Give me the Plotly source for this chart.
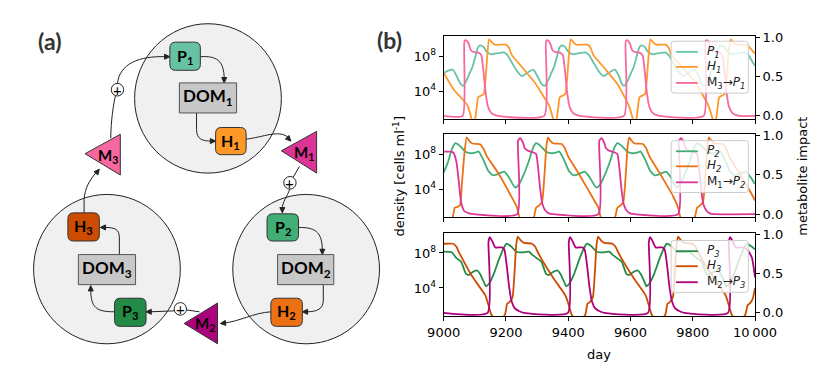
import numpy as np
import plotly.graph_objects as go

# ---------------- panel (b) data ----------------
# days and log10(density) for P and H, metabolite impact (0..1) for M

p1_day = [9000, 9015, 9030, 9042, 9052, 9062,
          9070, 9082, 9093, 9103, 9111, 9118, 9128, 9138, 9154, 9169, 9195, 9205, 9220, 9236, 9251, 9261, 9276, 9288, 9301, 9315, 9324,
          9332, 9344, 9355, 9365, 9373, 9380, 9390, 9400, 9416, 9431, 9457, 9467, 9482, 9498, 9513, 9523, 9538, 9550, 9563, 9573, 9580,
          9588, 9600, 9611, 9621, 9629, 9636, 9646, 9656, 9672, 9687, 9713, 9723, 9738, 9754, 9769, 9779, 9794, 9806, 9819, 9829, 9836,
          9844, 9856, 9867, 9877, 9885, 9892, 9902, 9912, 9928, 9943, 9969, 9979, 9994, 10000]
p1_log = [6.07, 6.33, 6.44, 5.7, 4.96, 4.6,
          4.96, 5.9, 6.8, 8.1, 9.04, 9.22, 9.04, 8.5, 8.2, 8.3, 8.4, 8.1, 7.2, 6.26, 5.7, 5.9, 6.26, 6.44, 5.7, 4.78, 4.6,
          4.96, 5.9, 6.8, 8.1, 9.04, 9.22, 9.04, 8.5, 8.2, 8.3, 8.4, 8.1, 7.2, 6.26, 5.7, 5.9, 6.26, 6.44, 5.7, 4.78, 4.6,
          4.96, 5.9, 6.8, 8.1, 9.04, 9.22, 9.04, 8.5, 8.2, 8.3, 8.4, 8.1, 7.2, 6.26, 5.7, 5.9, 6.26, 6.44, 5.7, 4.78, 4.6,
          4.96, 5.9, 6.8, 8.1, 9.04, 9.22, 9.04, 8.5, 8.2, 8.3, 8.4, 8.1, 7.2, 6.9]

h1_day = [9000, 9021, 9036, 9062,
          9076, 9090, 9095, 9101, 9105, 9111, 9121, 9129, 9134, 9139, 9146, 9154, 9164, 9199, 9209, 9219, 9255, 9296, 9324,
          9338, 9352, 9357, 9363, 9367, 9373, 9383, 9391, 9396, 9401, 9408, 9416, 9426, 9461, 9471, 9481, 9517, 9558, 9580,
          9594, 9608, 9613, 9619, 9623, 9629, 9639, 9647, 9652, 9657, 9664, 9672, 9682, 9712, 9722, 9732, 9770, 9812, 9836,
          9850, 9864, 9869, 9875, 9879, 9885, 9895, 9903, 9908, 9913, 9922, 9930, 9940, 9972, 9982, 9992, 10000]
h1_log = [6.1, 4.8, 4.0, 3.0,
          2.4, 0.78, 0.0, 0.8, 1.8, 3.3, 3.5, 3.7, 5.1, 7.5, 9.9, 9.6, 9.3, 9.3, 9.0, 8.1, 6.6, 4.8, 3.2,
          2.4, 0.78, 0.0, 0.8, 1.8, 3.3, 3.5, 3.7, 5.1, 7.5, 9.9, 9.6, 9.3, 9.3, 9.0, 8.1, 6.6, 4.8, 3.4,
          2.4, 0.78, 0.0, 0.8, 1.8, 3.3, 3.5, 3.7, 5.1, 7.5, 9.9, 9.6, 9.3, 9.3, 9.0, 8.1, 6.6, 4.8, 3.3,
          2.4, 0.78, 0.0, 0.8, 1.8, 3.3, 3.5, 3.7, 5.1, 7.5, 9.9, 9.6, 9.3, 9.3, 9.0, 8.6, 8.3]

m3p1_day = [9000,
            9061, 9067, 9073, 9081, 9088, 9098, 9113, 9121, 9127, 9134, 9141, 9149, 9159, 9175,
            9323, 9329, 9335, 9343, 9350, 9360, 9375, 9383, 9389, 9396, 9403, 9411, 9421, 9437,
            9579, 9585, 9591, 9599, 9606, 9616, 9631, 9639, 9645, 9652, 9659, 9667, 9677, 9693,
            9835, 9841, 9847, 9855, 9862, 9872, 9887, 9895, 9901, 9908, 9915, 9923, 9933, 9949, 10000]
m3p1_val = [0.0,
            0.0, 0.95, 0.96, 0.91, 0.83, 0.81, 0.80, 0.77, 0.60, 0.32, 0.14, 0.06, 0.02, 0.0,
            0.0, 0.95, 0.96, 0.91, 0.83, 0.81, 0.80, 0.77, 0.60, 0.32, 0.14, 0.06, 0.02, 0.0,
            0.0, 0.95, 0.96, 0.91, 0.83, 0.81, 0.80, 0.77, 0.60, 0.32, 0.14, 0.06, 0.02, 0.0,
            0.0, 0.95, 0.96, 0.91, 0.83, 0.81, 0.80, 0.77, 0.60, 0.32, 0.14, 0.06, 0.02, 0.0, 0.0]

p2_day = [9000, 9013, 9028, 9038, 9053, 9069, 9084, 9104, 9112, 9127, 9143, 9158, 9173, 9194, 9209, 9229,
          9241, 9256, 9272, 9287, 9297, 9312, 9328, 9343, 9363, 9371, 9386, 9402, 9417, 9432, 9453, 9468, 9490,
          9502, 9517, 9533, 9548, 9558, 9573, 9589, 9604, 9624, 9632, 9647, 9663, 9678, 9693, 9714, 9729, 9747,
          9758, 9773, 9789, 9804, 9814, 9829, 9845, 9860, 9880, 9888, 9903, 9919, 9934, 9949, 9970, 9985, 10000]
p2_log = [5.9, 7.0, 8.7, 9.25, 8.9, 8.3, 8.1, 8.2, 8.3, 7.4, 6.1, 5.57, 5.7, 6.0, 5.4, 4.2,
          4.5, 5.57, 7.04, 8.7, 9.25, 8.9, 8.3, 8.1, 8.2, 8.3, 7.4, 6.1, 5.57, 5.7, 6.0, 5.4, 4.2,
          4.5, 5.57, 7.04, 8.7, 9.25, 8.9, 8.3, 8.1, 8.2, 8.3, 7.4, 6.1, 5.57, 5.7, 6.0, 5.4, 4.2,
          4.5, 5.57, 7.04, 8.7, 9.25, 8.9, 8.3, 8.1, 8.2, 8.3, 7.4, 6.1, 5.57, 5.7, 6.0, 5.4, 4.6]

h2_day = [9000, 9022, 9029, 9036, 9046, 9053, 9059, 9066, 9074, 9082, 9092, 9118, 9128, 9138, 9174, 9214,
          9236, 9244, 9266, 9289, 9297, 9307, 9316, 9323, 9330, 9335, 9343, 9353, 9379, 9389, 9399, 9435, 9476,
          9497, 9505, 9527, 9550, 9558, 9568, 9577, 9584, 9591, 9596, 9604, 9614, 9640, 9650, 9660, 9696, 9737,
          9753, 9761, 9783, 9806, 9814, 9824, 9833, 9840, 9847, 9852, 9860, 9870, 9896, 9906, 9916, 9952, 9993, 10000]
h2_log = [0.0, 0.0, 0.76, 1.9, 2.0, 2.26, 4.8, 7.8, 9.9, 9.5, 9.2, 9.1, 8.6, 7.8, 5.9, 3.4,
          1.9, 0.76, 0.0, 0.76, 1.9, 2.15, 2.56, 5.2, 8.9, 9.9, 9.5, 9.2, 9.15, 8.7, 7.8, 5.7, 3.2,
          1.9, 0.76, 0.0, 0.76, 1.9, 2.15, 2.56, 5.2, 8.9, 9.9, 9.5, 9.2, 9.15, 8.7, 7.8, 5.7, 3.2,
          1.9, 0.76, 0.0, 0.76, 1.9, 2.15, 2.56, 5.2, 8.9, 9.9, 9.5, 9.2, 9.15, 8.7, 7.8, 5.7, 3.2, 2.7]

m1p2_day = [9000, 9020, 9031, 9041, 9049, 9056, 9066, 9082, 9097,
            9236, 9239, 9246, 9254, 9261, 9272, 9289, 9297, 9303, 9310, 9317, 9326, 9338, 9353,
            9497, 9500, 9507, 9515, 9522, 9533, 9550, 9558, 9564, 9571, 9578, 9587, 9599, 9614,
            9753, 9756, 9763, 9771, 9778, 9789, 9806, 9814, 9820, 9827, 9834, 9843, 9855, 9870, 10000]
m1p2_val = [0.79, 0.79, 0.78, 0.66, 0.40, 0.15, 0.04, 0.01, 0.0,
            0.0, 0.93, 0.96, 0.91, 0.83, 0.80, 0.78, 0.76, 0.60, 0.32, 0.13, 0.05, 0.01, 0.0,
            0.0, 0.93, 0.96, 0.91, 0.83, 0.80, 0.78, 0.76, 0.60, 0.32, 0.13, 0.05, 0.01, 0.0,
            0.0, 0.93, 0.96, 0.91, 0.83, 0.80, 0.78, 0.76, 0.60, 0.32, 0.13, 0.05, 0.01, 0.0, 0.0]

p3_day = [9000, 9026, 9041, 9056, 9072, 9082, 9092, 9107, 9117, 9133, 9136,
          9146, 9161, 9177, 9192, 9202, 9218, 9233, 9253, 9274, 9284, 9299, 9314, 9329, 9339, 9350, 9365, 9375, 9391, 9394,
          9404, 9419, 9435, 9450, 9460, 9476, 9491, 9511, 9532, 9542, 9557, 9572, 9587, 9597, 9608, 9623, 9633, 9649, 9651,
          9661, 9676, 9692, 9707, 9717, 9733, 9748, 9768, 9789, 9799, 9814, 9829, 9844, 9854, 9865, 9880, 9890, 9906, 9908,
          9918, 9933, 9949, 9964, 9974, 9990, 10000]
p3_log = [8.14, 8.07, 7.4, 7.0, 5.6, 5.5, 5.8, 6.0, 5.6, 4.36, 4.18,
          4.5, 5.6, 7.2, 8.5, 9.05, 8.7, 8.14, 8.07, 8.14, 7.8, 7.4, 7.0, 5.6, 5.5, 5.8, 6.0, 5.6, 4.36, 4.18,
          4.5, 5.6, 7.2, 8.5, 9.05, 8.7, 8.14, 8.07, 8.14, 7.8, 7.4, 7.0, 5.6, 5.5, 5.8, 6.0, 5.6, 4.36, 4.18,
          4.5, 5.6, 7.2, 8.5, 9.05, 8.7, 8.14, 8.07, 8.14, 7.8, 7.4, 7.0, 5.6, 5.5, 5.8, 6.0, 5.6, 4.36, 4.18,
          4.5, 5.6, 7.2, 8.5, 9.05, 8.7, 8.4]

h3_day = [9000, 9031, 9041, 9051, 9092, 9133,
          9141, 9153, 9175, 9197, 9204, 9212, 9221, 9228, 9233, 9238, 9248, 9258, 9284, 9294, 9304, 9351, 9390,
          9399, 9411, 9433, 9455, 9462, 9470, 9479, 9486, 9491, 9496, 9506, 9516, 9542, 9552, 9562, 9609, 9648,
          9656, 9668, 9690, 9712, 9719, 9727, 9736, 9743, 9748, 9753, 9763, 9773, 9799, 9809, 9819, 9866, 9905,
          9913, 9925, 9947, 9969, 9976, 9985, 9993, 10000]
h3_log = [9.05, 9.05, 8.7, 7.96, 5.3, 3.2,
          2.4, 0.97, 0.0, 0.97, 2.2, 2.4, 2.9, 6.0, 8.9, 9.87, 9.4, 9.15, 9.05, 8.7, 7.96, 5.2, 3.2,
          2.4, 0.97, 0.0, 0.97, 2.2, 2.4, 2.9, 6.0, 8.9, 9.87, 9.4, 9.15, 9.05, 8.7, 7.96, 5.2, 3.2,
          2.4, 0.97, 0.0, 0.97, 2.2, 2.4, 2.9, 6.0, 8.9, 9.87, 9.4, 9.15, 9.05, 8.7, 7.96, 5.2, 3.2,
          2.4, 0.97, 0.0, 0.97, 2.0, 2.3, 2.8, 4.0]

m2p3_day = [9000,
            9141, 9144, 9148, 9156, 9166, 9187, 9195, 9202, 9210, 9218, 9228, 9243, 9258,
            9399, 9402, 9406, 9414, 9424, 9445, 9453, 9460, 9468, 9476, 9486, 9501, 9516,
            9656, 9659, 9663, 9671, 9681, 9702, 9710, 9717, 9725, 9733, 9743, 9758, 9773,
            9913, 9916, 9920, 9928, 9938, 9965, 9975, 9990, 10000]
m2p3_val = [0.0,
            0.0, 0.90, 0.96, 0.91, 0.83, 0.83, 0.80, 0.62, 0.34, 0.15, 0.06, 0.02, 0.0,
            0.0, 0.90, 0.96, 0.91, 0.83, 0.83, 0.80, 0.62, 0.34, 0.15, 0.06, 0.02, 0.0,
            0.0, 0.90, 0.96, 0.91, 0.83, 0.83, 0.80, 0.62, 0.34, 0.15, 0.06, 0.02, 0.0,
            0.0, 0.90, 0.96, 0.91, 0.83, 0.83, 0.80, 0.70, 0.45]

x_ticks = [9000, 9200, 9400, 9600, 9800, 10000]
x_ticktext = ["9000", "9200", "9400", "9600", "9800", "10\u2009000"]

# colours (ColorBrewer-like)
C_P1, C_H1, C_M3 = "#66c2a5", "#fe9929", "#f768a1"
C_P2, C_H2, C_M1 = "#41ae76", "#ec7014", "#dd3497"
C_P3, C_H3, C_M2 = "#238b45", "#cc4c02", "#ae017e"

W, H = 830, 366
FONT = "DejaVu Sans"


def px_x(x0, x1):
    return [x0 / W, x1 / W]


def px_y(top, bottom):
    return [1 - bottom / H, 1 - top / H]


fig = go.Figure()

panels = [
    # (xaxis, left y, right y, P, H, M)
    ("x", "y", "y2",
     (p1_day, p1_log, C_P1, "<i>P<sub>1</sub></i>"),
     (h1_day, h1_log, C_H1, "<i>H<sub>1</sub></i>"),
     (m3p1_day, m3p1_val, C_M3, "M<sub>3</sub>\u2192<i>P<sub>1</sub></i>")),
    ("x2", "y3", "y4",
     (p2_day, p2_log, C_P2, "<i>P<sub>2</sub></i>"),
     (h2_day, h2_log, C_H2, "<i>H<sub>2</sub></i>"),
     (m1p2_day, m1p2_val, C_M1, "M<sub>1</sub>\u2192<i>P<sub>2</sub></i>")),
    ("x3", "y5", "y6",
     (p3_day, p3_log, C_P3, "<i>P<sub>3</sub></i>"),
     (h3_day, h3_log, C_H3, "<i>H<sub>3</sub></i>"),
     (m2p3_day, m2p3_val, C_M2, "M<sub>2</sub>\u2192<i>P<sub>3</sub></i>")),
]

for xa, yl, yr, P, Hh, M in panels:
    for d, v, c, name in (P, Hh):
        fig.add_trace(go.Scatter(x=d, y=10 ** np.array(v), xaxis=xa, yaxis=yl, mode="lines",
                                 line=dict(color=c, width=1.8, shape="spline", smoothing=0.5),
                                 name=name, showlegend=False))
    d, v, c, name = M
    fig.add_trace(go.Scatter(x=d, y=v, xaxis=xa, yaxis=yr, mode="lines",
                             line=dict(color=c, width=1.8, shape="spline", smoothing=0.5),
                             name=name, showlegend=False))

# dummy trace so the pixel-space helper axes exist
fig.add_trace(go.Scatter(x=[], y=[], xaxis="x4", yaxis="y7", showlegend=False))

xdom = px_x(439.3, 766)
ydoms = [px_y(22, 107.3), px_y(123, 208.6), px_y(225, 310.3)]

axis_common = dict(showline=True, linecolor="black", linewidth=1, mirror=True, ticks="outside",
                   ticklen=4, tickcolor="black", showgrid=False, zeroline=False,
                   tickfont=dict(family=FONT, size=13, color="black"))

lay = dict(
    width=W, height=H, margin=dict(l=0, r=0, t=0, b=0),
    paper_bgcolor="white", plot_bgcolor="rgba(0,0,0,0)", showlegend=False,
    xaxis4=dict(domain=[0, 1], range=[0, W], anchor="y7", visible=False, fixedrange=True),
    yaxis7=dict(domain=[0, 1], range=[H, 0], anchor="x4", visible=False, fixedrange=True),
)
for i, (xa, yl, yr) in enumerate([("x", "y", "y2"), ("x2", "y3", "y4"), ("x3", "y5", "y6")]):
    xn = "xaxis" + ("" if xa == "x" else xa[1:])
    yln = "yaxis" + ("" if yl == "y" else yl[1:])
    yrn = "yaxis" + yr[1:]
    lay[xn] = dict(axis_common, domain=xdom, range=[9000, 10000], anchor=yl,
                   tickvals=x_ticks, ticktext=x_ticktext, showticklabels=(i == 2))
    lay[yln] = dict(axis_common, domain=ydoms[i], type="log", range=[0.8, 10.25], anchor=xa,
                    tickvals=[1e4, 1e8], ticktext=["10<sup>4</sup>", "10<sup>8</sup>"])
    lay[yrn] = dict(axis_common, overlaying=yl, side="right", anchor=xa, range=[-0.04, 1.01],
                    tickvals=[0, 0.5, 1], ticktext=["0.0", "0.5", "1.0"], mirror=False)
fig.update_layout(**lay)

# ---------------- shapes / annotations in pixel space ----------------
REF = dict(xref="x4", yref="y7")
shapes = []
annotations = []


def circle(cx, cy, r, fill, lw=1):
    shapes.append(dict(type="circle", x0=cx - r, x1=cx + r, y0=cy - r, y1=cy + r,
                       fillcolor=fill, line=dict(color="#222", width=lw), **REF))


def rounded(x0, y0, x1, y1, r):
    return (f"M {x0 + r},{y0} L {x1 - r},{y0} Q {x1},{y0} {x1},{y0 + r} L {x1},{y1 - r} "
            f"Q {x1},{y1} {x1 - r},{y1} L {x0 + r},{y1} Q {x0},{y1} {x0},{y1 - r} "
            f"L {x0},{y0 + r} Q {x0},{y0} {x0 + r},{y0} Z")


def rbox(x0, y0, x1, y1, fill, r=6):
    shapes.append(dict(type="path", path=rounded(x0, y0, x1, y1, r), fillcolor=fill,
                       line=dict(color="#333", width=1), **REF))


def rect(x0, y0, x1, y1, fill):
    shapes.append(dict(type="rect", x0=x0, x1=x1, y0=y0, y1=y1, fillcolor=fill,
                       line=dict(color="#555", width=1), **REF))


def tri(pts, fill, lc="#333"):
    p = "M {},{} L {},{} L {},{} Z".format(*[c for pt in pts for c in pt])
    shapes.append(dict(type="path", path=p, fillcolor=fill, line=dict(color=lc, width=1), **REF))


def curve(path):
    shapes.append(dict(type="path", path=path, line=dict(color="#222", width=1), **REF))


def head(tip, tail, length=5.5, half=2.6):
    # small filled arrowhead pointing from tail towards tip
    dx, dy = tip[0] - tail[0], tip[1] - tail[1]
    n = (dx * dx + dy * dy) ** 0.5
    ux, uy = dx / n, dy / n
    bx, by = tip[0] - length * ux, tip[1] - length * uy
    pts = [(round(tip[0], 2), round(tip[1], 2)),
           (round(bx - half * uy, 2), round(by + half * ux, 2)),
           (round(bx + half * uy, 2), round(by - half * ux, 2))]
    tri(pts, "#222", lc="#222")


def label(x, y, text, size=16):
    annotations.append(dict(x=x, y=y, text=text, showarrow=False,
                            font=dict(family="Lato", size=size, color="black"), **REF))


# legends of panel (b), matplotlib style (box top, row offsets)
for top, (_, _, _, P, Hh, M) in zip([27, 129.5, 232.5], panels):
    shapes.append(dict(type="path", path=rounded(678, top, 759, top + 53.5, 3),
                       fillcolor="rgba(255,255,255,0.8)", line=dict(color="#cccccc", width=1), **REF))
    for dy, (_, _, c, name) in zip([11, 26.5, 43], (P, Hh, M)):
        shapes.append(dict(type="line", x0=683, x1=706, y0=top + dy, y1=top + dy,
                           line=dict(color=c, width=1.8), **REF))
        annotations.append(dict(x=713, y=top + dy, text=name, showarrow=False, xanchor="left",
                                font=dict(family=FONT, size=12, color="#222"), **REF))

# cells
circle(192, 86, 77, "#f0f0f0")
circle(295, 262, 77, "#f0f0f0")
circle(86, 262, 77, "#f0f0f0")

# arrows
curve("M 184,43 C 200,42 209,46 209,66")
head((209, 70), (209, 63))
curve("M 180,101 L 180,118 C 180,128 186,130 196,130")
head((200, 130), (193, 130))
curve("M 232,128 C 250,126 266,118 276,126")
head((279, 130), (274, 125))
curve("M 288,156 L 281,168")
curve("M 278,179 C 275,188 270,192 270,200")
head((270, 204), (270, 197))
curve("M 287,219 C 303,219 312,222 312,243")
head((312, 247), (312, 240))
curve("M 313,278 L 313,294 C 313,303 307,306 295,306")
head((291, 306), (298, 306))
curve("M 258,306 C 240,307 225,316 209,317.5")
head((205, 318), (212, 317.3))
curve("M 183,306 L 169,304")
curve("M 157,305 L 131,306")
head((127, 306), (134, 306))
curve("M 94,306 C 75,306 69,302 69,283")
head((69, 279), (69, 286))
curve("M 99,247 L 99,230 C 99,221 95,219 83,219")
head((79, 219), (86, 219))
curve("M 62,204 L 62,190 C 63,178 68,170 75,162")
head((78, 159), (73, 165))
curve("M 90,127 C 90,110 93,90 95,83")
curve("M 97,71 C 99,50 120,42 148,43")
head((152, 43), (145, 43))

# boxes
rbox(152, 28, 184, 57, C_P1)
rbox(200, 116, 232, 144, C_H1)
rbox(254, 205, 287, 233, C_P2)
rbox(258, 292, 291, 321, C_H2)
rbox(94, 292, 127, 321, C_P3)
rbox(45, 204, 78, 233, C_H3)
rect(162, 70, 222, 101, "#c8c8c8")
rect(265, 247, 324, 278, "#c8c8c8")
rect(56, 247, 116, 278, "#c8c8c8")

# metabolites
tri([(269, 140), (306, 120), (306, 163)], C_M1)
tri([(63, 143), (100, 123), (100, 165)], C_M3)
tri([(167, 318), (202, 297), (202, 339)], C_M2)

# plus signs
for cx, cy in [(97, 77), (278, 173), (163, 303)]:
    circle(cx, cy, 6.5, "white")
    label(cx, cy, "+", size=15)

label(168, 43, "<b>P<sub>1</sub></b>")
label(216, 130, "<b>H<sub>1</sub></b>")
label(270.5, 219, "<b>P<sub>2</sub></b>")
label(274.5, 306, "<b>H<sub>2</sub></b>")
label(110.5, 306, "<b>P<sub>3</sub></b>")
label(61.5, 218, "<b>H<sub>3</sub></b>")
label(192, 85, "<b>DOM<sub>1</sub></b>", size=17)
label(294.5, 262, "<b>DOM<sub>2</sub></b>", size=17)
label(86, 262, "<b>DOM<sub>3</sub></b>", size=17)
label(293, 142, "<b>M<sub>1</sub></b>", size=15)
label(87, 145, "<b>M<sub>3</sub></b>", size=15)
label(189, 319, "<b>M<sub>2</sub></b>", size=15)

# panel letters and axis titles
annotations.append(dict(x=26, y=27, text="<b>(a)</b>", showarrow=False,
                        font=dict(family="Lato", size=23, color="#333"), **REF))
annotations.append(dict(x=382, y=26, text="<b>(b)</b>", showarrow=False,
                        font=dict(family="Lato", size=23, color="#333"), **REF))
annotations.append(dict(x=392, y=166, text="density [cells ml<sup>-1</sup>]", textangle=-90,
                        showarrow=False, font=dict(family=FONT, size=13, color="black"), **REF))
annotations.append(dict(x=815, y=166, text="metabolite impact", textangle=-90,
                        showarrow=False, font=dict(family=FONT, size=13, color="black"), **REF))
annotations.append(dict(x=602, y=350, text="day", showarrow=False,
                        font=dict(family=FONT, size=13, color="black"), **REF))

fig.update_layout(shapes=shapes, annotations=annotations)
fig.write_html("out.html")
